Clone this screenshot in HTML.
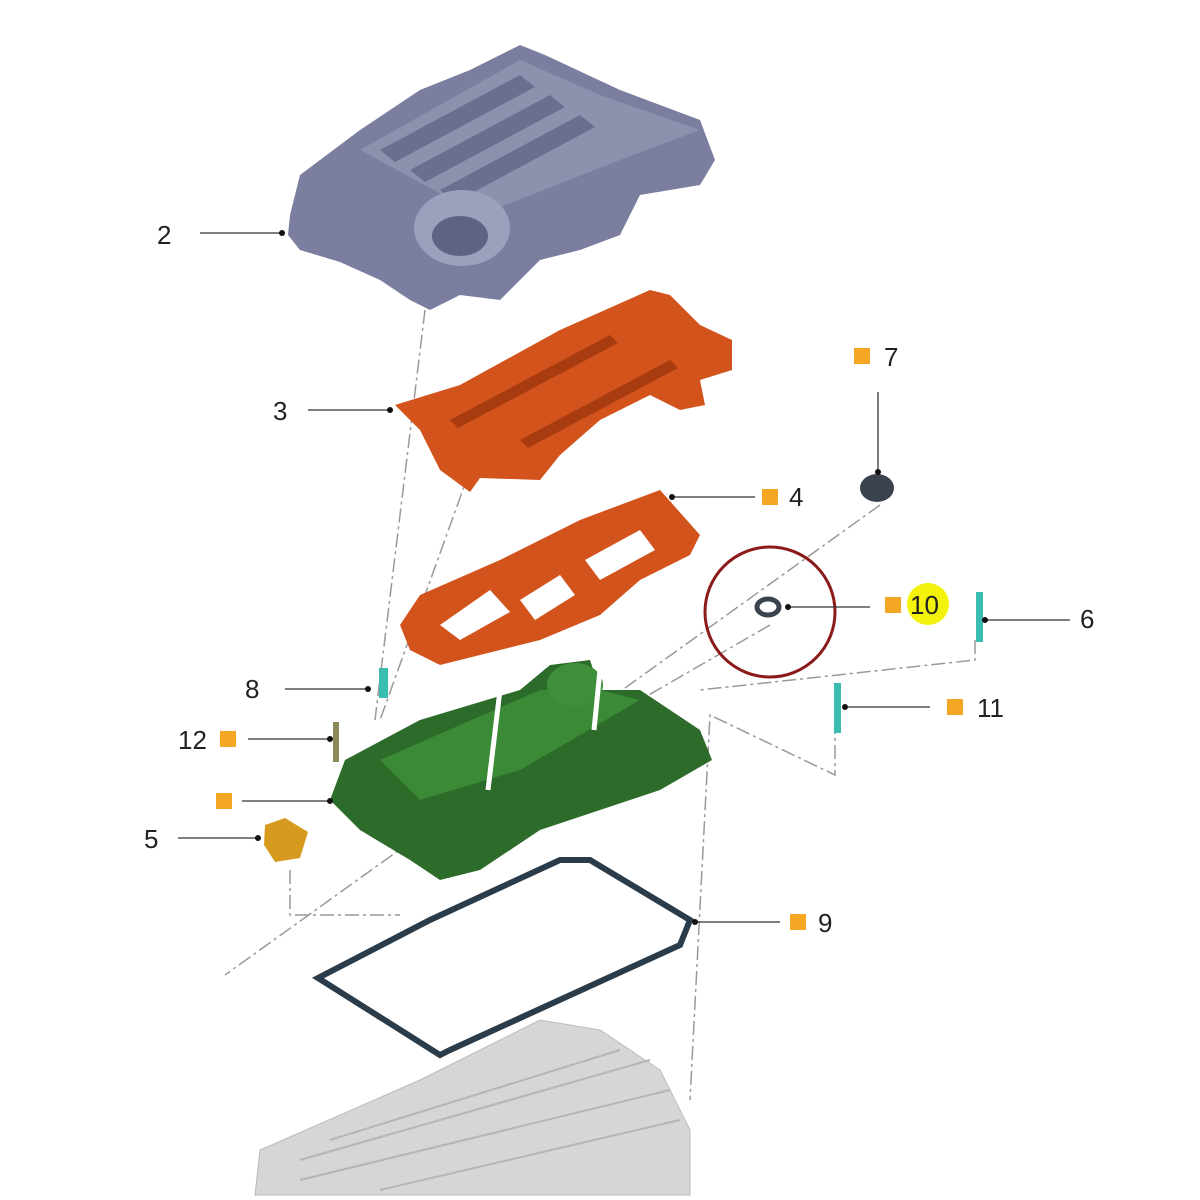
<!DOCTYPE html>
<html><head><meta charset="utf-8"><style>
html,body{margin:0;padding:0;background:#fff;}
svg{display:block;}
text{font-family:"Liberation Sans",sans-serif;font-size:26px;fill:#222;}
</style></head><body>
<svg width="1200" height="1200" viewBox="0 0 1200 1200" xmlns="http://www.w3.org/2000/svg">
<!-- dash-dot axis lines -->
<g stroke="#999" stroke-width="1.5" fill="none" stroke-dasharray="14 4 3 4">
<line x1="425" y1="310" x2="375" y2="720"/>
<line x1="470" y1="470" x2="380" y2="720"/>
<line x1="880" y1="505" x2="225" y2="975"/>
<line x1="770" y1="625" x2="640" y2="700"/>
<polyline points="975,640 975,660 700,690"/>
<polyline points="835,720 835,775 710,715 690,1100"/>
<polyline points="290,870 290,915 400,915"/>
</g>
<!-- engine block -->
<polygon points="255,1195 260,1150 420,1080 540,1020 600,1030 660,1070 690,1130 690,1195" fill="#d6d6d6" stroke="#bbb"/>
<g stroke="#b5b5b5" stroke-width="2" fill="none">
<path d="M300,1160 L650,1060 M300,1180 L670,1090 M330,1140 L620,1050 M380,1190 L680,1120"/>
</g>
<!-- engine cover 2 -->
<polygon points="290,215 300,175 360,130 420,90 470,70 520,45 545,55 620,90 700,120 715,160 700,185 640,195 620,235 580,250 540,260 500,300 460,295 430,310 410,300 380,280 340,262 300,250 288,235" fill="#7b7e9f"/>
<polygon points="360,150 520,60 600,95 700,130 620,160 480,215" fill="#8e91ae"/>
<g fill="#6b6e8e"><path d="M380,150 l140,-75 l15,12 l-140,75z"/><path d="M410,170 l140,-75 l15,12 l-140,75z"/><path d="M440,190 l140,-75 l15,12 l-140,75z"/></g>
<ellipse cx="462" cy="228" rx="48" ry="38" fill="#9da0bd"/>
<ellipse cx="460" cy="236" rx="28" ry="20" fill="#5f6282"/>
<!-- cover 3 orange -->
<polygon points="395,405 460,385 560,330 650,290 670,295 700,325 732,340 732,370 700,380 705,405 680,410 650,395 600,420 560,455 540,480 480,478 470,492 440,470 420,430" fill="#d3531c"/>
<g fill="#a83c10"><path d="M450,420 l160,-85 l8,8 l-160,85z"/><path d="M520,440 l150,-80 l8,8 l-150,80z"/></g>
<!-- gasket 4 orange -->
<polygon points="400,625 420,595 500,560 580,520 660,490 700,535 690,555 640,580 600,615 540,640 480,655 440,665 410,650" fill="#d3531c"/>
<g fill="#fff"><polygon points="440,625 490,590 510,612 460,640"/><polygon points="520,600 560,575 575,595 535,620"/><polygon points="585,560 640,530 655,550 600,580"/></g>
<!-- green valve cover -->
<polygon points="330,800 345,760 420,720 520,690 550,665 590,660 600,690 640,690 700,730 712,760 660,790 600,810 540,830 480,870 440,880 410,860 360,830" fill="#2c6b2a"/>
<polygon points="380,760 540,690 600,690 640,700 520,770 420,800" fill="#3a8a36"/>
<ellipse cx="575" cy="685" rx="28" ry="22" fill="#3f8f3a"/>
<line x1="500" y1="690" x2="488" y2="790" stroke="#fff" stroke-width="5"/>
<line x1="600" y1="670" x2="594" y2="730" stroke="#fff" stroke-width="5"/>
<!-- gasket 9 -->
<polygon points="318,978 430,920 560,860 590,860 690,920 680,945 450,1050 440,1055" fill="none" stroke="#2a3b4a" stroke-width="6"/>
<!-- small parts -->
<ellipse cx="877" cy="488" rx="17" ry="14" fill="#3a4250"/>
<ellipse cx="768" cy="607" rx="11" ry="8" fill="none" stroke="#3a4250" stroke-width="5"/>
<rect x="976" y="592" width="7" height="50" fill="#3bbcb0"/>
<rect x="834" y="683" width="7" height="50" fill="#3bbcb0"/>
<rect x="379" y="668" width="9" height="30" fill="#3bbcb0"/>
<rect x="333" y="722" width="6" height="40" fill="#8a8a5a"/>
<polygon points="265,825 285,818 308,832 300,858 275,862 264,845" fill="#d69a1e"/>
<!-- red circle -->
<circle cx="770" cy="612" r="65" fill="none" stroke="#8b1a1a" stroke-width="3"/>
<!-- leader lines -->
<g stroke="#333" stroke-width="1.3">
<line x1="200" y1="233" x2="282" y2="233"/>
<line x1="308" y1="410" x2="390" y2="410"/>
<line x1="878" y1="392" x2="878" y2="472"/>
<line x1="672" y1="497" x2="755" y2="497"/>
<line x1="788" y1="607" x2="870" y2="607"/>
<line x1="985" y1="620" x2="1070" y2="620"/>
<line x1="845" y1="707" x2="930" y2="707"/>
<line x1="285" y1="689" x2="368" y2="689"/>
<line x1="248" y1="739" x2="330" y2="739"/>
<line x1="242" y1="801" x2="330" y2="801"/>
<line x1="178" y1="838" x2="258" y2="838"/>
<line x1="695" y1="922" x2="780" y2="922"/>
</g>
<g fill="#111">
<circle cx="282" cy="233" r="3"/><circle cx="390" cy="410" r="3"/><circle cx="878" cy="472" r="3"/>
<circle cx="672" cy="497" r="3"/><circle cx="788" cy="607" r="3"/><circle cx="985" cy="620" r="3"/>
<circle cx="845" cy="707" r="3"/><circle cx="368" cy="689" r="3"/><circle cx="330" cy="739" r="3"/>
<circle cx="330" cy="801" r="3"/><circle cx="258" cy="838" r="3"/><circle cx="695" cy="922" r="3"/>
</g>
<!-- yellow highlight -->
<circle cx="928" cy="604" r="21" fill="#f2f20a"/>
<!-- orange squares -->
<g fill="#f5a623">
<rect x="854" y="348" width="16" height="16"/><rect x="762" y="489" width="16" height="16"/>
<rect x="885" y="597" width="16" height="16"/><rect x="947" y="699" width="16" height="16"/>
<rect x="220" y="731" width="16" height="16"/><rect x="216" y="793" width="16" height="16"/>
<rect x="790" y="914" width="16" height="16"/>
</g>
<!-- labels -->
<text x="157" y="244">2</text><text x="273" y="420">3</text><text x="884" y="366">7</text>
<text x="789" y="506">4</text><text x="910" y="614">10</text><text x="1080" y="628">6</text>
<text x="977" y="717">11</text><text x="245" y="698">8</text><text x="178" y="749">12</text>
<text x="144" y="848">5</text><text x="818" y="932">9</text>
</svg>
</body></html>
